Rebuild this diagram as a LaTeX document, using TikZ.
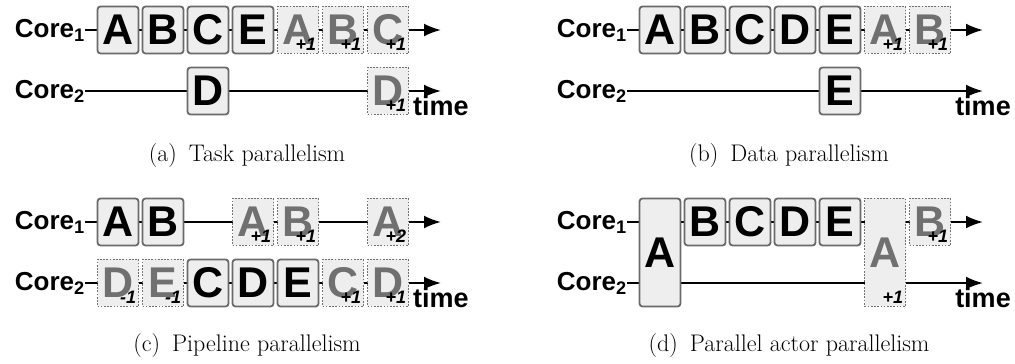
\documentclass[tikz,border=0pt]{standalone}
\usepackage{fontspec}
\newfontfamily\hvfont{Liberation Sans}
\usetikzlibrary{arrows.meta, backgrounds}
\definecolor{boxFill}{HTML}{EEEEEE}
\definecolor{boxEdge}{HTML}{6A6A6A}
\definecolor{nextGray}{HTML}{707070}
\tikzset{
  job/.style={draw=boxEdge, fill=boxFill, line width=1.8pt, rounded corners=3pt,
              minimum width=41pt, minimum height=47pt, inner sep=0pt,
              font=\hvfont\bfseries\fontsize{43}{43}\selectfont},
  nextjob/.style={job, draw=nextGray, rounded corners=0pt, text=nextGray,
                  line width=1.7pt, dash pattern=on 1.7pt off 1.5pt},
  iter/.style={anchor=base east, inner sep=0pt,
               font=\hvfont\bfseries\itshape\fontsize{18}{18}\selectfont},
  corelbl/.style={anchor=east, inner sep=0pt,
                  font=\hvfont\bfseries\fontsize{26}{26}\selectfont},
  timeline/.style={line width=2.2pt, -{Latex[length=17pt,width=13pt]}},
  timelbl/.style={anchor=north, inner sep=0pt,
                  font=\hvfont\bfseries\fontsize{27}{27}\selectfont},
  subcap/.style={anchor=base, font=\fontsize{24}{28}\selectfont}
}
\begin{document}
\begin{tikzpicture}[x=1pt, y=1pt]
  \useasboundingbox (0,0) rectangle (1015,364);
  % (a) task parallelism
  \node[corelbl] (taskC1) at (85,334) {Core\textsubscript{1}};
  \node[corelbl] (taskC2) at (85,273) {Core\textsubscript{2}};
  \coordinate (taskE1) at (441,334);
  \coordinate (taskE2) at (441,273);
  \foreach \s/\t in {0/A,1/B,2/C,3/E}
    \node[job] (taskA\s) at (118+45*\s,334) {\t};
  \foreach \s/\t in {4/A,5/B,6/C}{
    \node[nextjob] (taskA\s) at (118+45*\s,334) {\t};
    \node[iter] (taskA\s-i) at ([shift={(-3,4)}]taskA\s.south east) {+1};
  }
  \node[job] (taskB2) at (208,273) {D};
  \node[nextjob] (taskB6) at (388,273) {D};
  \node[iter] (taskB6-i) at ([shift={(-3,4)}]taskB6.south east) {+1};
  \node[timelbl] (taskT) at ([yshift=-5pt]taskE2) {time};
  \node[subcap] (taskCap) at (247,202) {(a)\enskip Task parallelism};
  % (b) data parallelism
  \node[corelbl] (dataC1) at (627,334) {Core\textsubscript{1}};
  \node[corelbl] (dataC2) at (627,273) {Core\textsubscript{2}};
  \coordinate (dataE1) at (983,334);
  \coordinate (dataE2) at (983,273);
  \foreach \s/\t in {0/A,1/B,2/C,3/D,4/E}
    \node[job] (dataA\s) at (660+45*\s,334) {\t};
  \foreach \s/\t in {5/A,6/B}{
    \node[nextjob] (dataA\s) at (660+45*\s,334) {\t};
    \node[iter] (dataA\s-i) at ([shift={(-3,4)}]dataA\s.south east) {+1};
  }
  \node[job] (dataB4) at (840,273) {E};
  \node[timelbl] (dataT) at ([yshift=-5pt]dataE2) {time};
  \node[subcap] (dataCap) at (789,202) {(b)\enskip Data parallelism};
  % (c) pipeline parallelism
  \node[corelbl] (pipeC1) at (85,142) {Core\textsubscript{1}};
  \node[corelbl] (pipeC2) at (85,81) {Core\textsubscript{2}};
  \coordinate (pipeE1) at (441,142);
  \coordinate (pipeE2) at (441,81);
  \foreach \s/\t in {0/A,1/B}
    \node[job] (pipeA\s) at (118+45*\s,142) {\t};
  \foreach \s/\t/\n in {3/A/+1,4/B/+1,6/A/+2}{
    \node[nextjob] (pipeA\s) at (118+45*\s,142) {\t};
    \node[iter] (pipeA\s-i) at ([shift={(-3,4)}]pipeA\s.south east) {\n};
  }
  \foreach \s/\t in {2/C,3/D,4/E}
    \node[job] (pipeB\s) at (118+45*\s,81) {\t};
  \foreach \s/\t/\n in {0/D/-1,1/E/-1,5/C/+1,6/D/+1}{
    \node[nextjob] (pipeB\s) at (118+45*\s,81) {\t};
    \node[iter] (pipeB\s-i) at ([shift={(-3,4)}]pipeB\s.south east) {\n};
  }
  \node[timelbl] (pipeT) at ([yshift=-5pt]pipeE2) {time};
  \node[subcap] (pipeCap) at (247,12) {(c)\enskip Pipeline parallelism};
  % (d) parallel actor
  \node[corelbl] (actC1) at (627,142) {Core\textsubscript{1}};
  \node[corelbl] (actC2) at (627,81) {Core\textsubscript{2}};
  \coordinate (actE1) at (983,142);
  \coordinate (actE2) at (983,81);
  \node[job, minimum height=108pt] (actA0) at (660,111.5) {A};
  \foreach \s/\t in {1/B,2/C,3/D,4/E}
    \node[job] (actA\s) at (660+45*\s,142) {\t};
  \node[nextjob, minimum height=108pt] (actA5) at (885,111.5) {A};
  \node[iter] (actA5-i) at ([shift={(-3,4)}]actA5.south east) {+1};
  \node[nextjob] (actA6) at (930,142) {B};
  \node[iter] (actA6-i) at ([shift={(-3,4)}]actA6.south east) {+1};
  \node[timelbl] (actT) at ([yshift=-5pt]actE2) {time};
  \node[subcap] (actCap) at (789,12) {(d)\enskip Parallel actor parallelism};
  % zeitachsen
  \begin{scope}[on background layer]
    \foreach \p in {task,data,pipe,act}{
      \draw[timeline] (\p C1.east) -- (\p E1);
      \draw[timeline] (\p C2.east) -- (\p E2);
    }
  \end{scope}
\end{tikzpicture}
\end{document}
